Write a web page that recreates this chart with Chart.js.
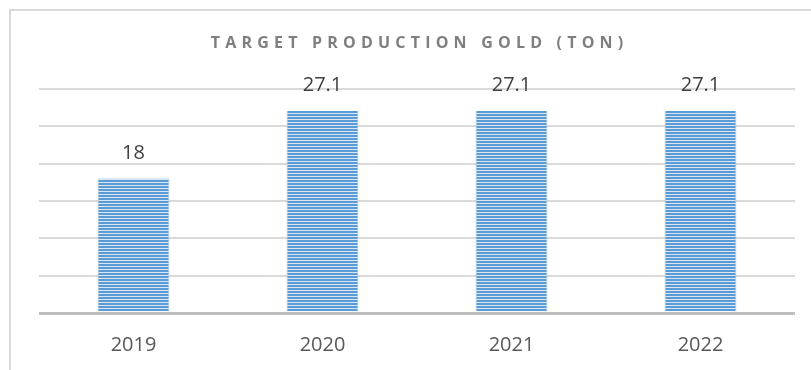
<!DOCTYPE html>
<html>
<head>
<meta charset="utf-8">
<script src="https://cdn.jsdelivr.net/npm/chart.js@4.4.1/dist/chart.umd.min.js"></script>
<style>
  body { margin: 0; background: #fff; }
</style>
</head>
<body>
<canvas id="Chart" width="811" height="370"></canvas>
<script>
const title = "TARGET PRODUCTION GOLD (TON)";
const years = ["2019", "2020", "2021", "2022"];
const target = [18, 27.1, 27.1, 27.1];
const yMax = 30;
const yStep = 5;

// striped fill like the excel bars
function stripes() {
  const c = document.createElement("canvas");
  c.width = 4;
  c.height = 3;
  const g = c.getContext("2d");
  g.fillStyle = "#d9e7f5";
  g.fillRect(0, 0, 4, 3);
  g.fillStyle = "#5b9bd5";
  g.fillRect(0, 0, 4, 2);
  return g.createPattern(c, "repeat");
}

const frame = {
  id: "frame",
  beforeDraw(chart) {
    const ctx = chart.ctx;
    ctx.save();
    ctx.strokeStyle = "#d9d9d9";
    ctx.lineWidth = 2;
    ctx.beginPath();
    ctx.moveTo(10, 370);
    ctx.lineTo(10, 10);
    ctx.lineTo(811, 10);
    ctx.stroke();
    ctx.restore();
  },
  afterDraw(chart) {
    const ctx = chart.ctx;
    const a = chart.chartArea;
    ctx.save();
    ctx.font = "bold 16px 'Open Sans'";
    ctx.fillStyle = "#7f7f7f";
    ctx.letterSpacing = "5.2px";
    ctx.textAlign = "center";
    ctx.textBaseline = "middle";
    ctx.fillText(title, (a.left + a.right) / 2 + 2.6, 43);
    ctx.restore();
  }
};

const valueLabels = {
  id: "valueLabels",
  afterDatasetsDraw(chart) {
    const ctx = chart.ctx;
    const meta = chart.getDatasetMeta(0);
    ctx.save();
    ctx.font = "20px 'Open Sans'";
    ctx.fillStyle = "#404040";
    ctx.textAlign = "center";
    ctx.textBaseline = "middle";
    meta.data.forEach((bar, i) => {
      ctx.fillText(String(target[i]), bar.x, bar.y - 25);
    });
    ctx.restore();
  }
};

const ctx = document.getElementById("Chart").getContext("2d");
const myChart = new Chart(ctx, {
  type: "bar",
  data: {
    labels: years,
    datasets: [
      {
        label: title,
        data: target,
        backgroundColor: stripes(),
        borderColor: "#9dc3e6",
        borderWidth: { left: 1, right: 1, top: 0, bottom: 0 },
        borderSkipped: false,
        categoryPercentage: 1,
        barPercentage: 0.38,
      },
    ],
  },
  options: {
    responsive: false,
    animation: false,
    layout: { padding: { left: 39, right: 16, top: 89, bottom: 0 } },
    plugins: {
      legend: { display: false },
      title: { display: false },
      tooltip: { enabled: false },
    },
    scales: {
      x: {
        grid: { display: false, drawTicks: false },
        border: { display: false },
        ticks: {
          color: "#595959",
          font: { family: "'Open Sans'", size: 20 },
          padding: 20,
        },
        afterFit: (s) => { s.height = 57; },
      },
      y: {
        min: 0,
        max: yMax,
        ticks: { display: false, stepSize: yStep },
        border: { display: false },
        grid: {
          drawTicks: false,
          color: (c) => (c.tick && c.tick.value === 0 ? "#bfbfbf" : "#d9d9d9"),
          lineWidth: (c) => (c.tick && c.tick.value === 0 ? 3 : 2),
        },
      },
    },
  },
  plugins: [frame, valueLabels],
});
</script>
</body>
</html>
